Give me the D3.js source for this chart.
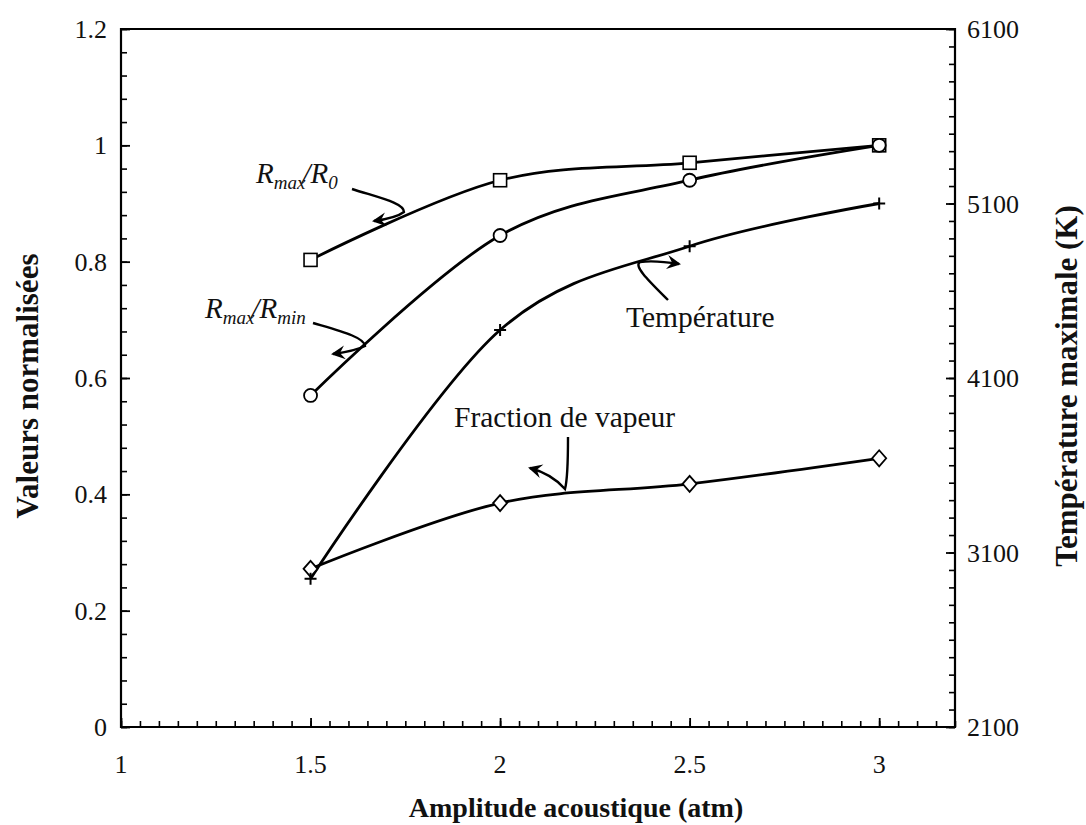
<!DOCTYPE html>
<html>
<head>
<meta charset="utf-8">
<script src="https://cdn.jsdelivr.net/npm/d3@7"></script>
<style>
  html, body { margin: 0; padding: 0; background: #fff; }
  svg { display: block; }
  text { font-family: "Palatino Linotype", "Book Antiqua", Palatino, "Liberation Serif", serif; fill: #111; }
</style>
</head>
<body>
<svg id="chart" width="1086" height="825"></svg>
<script>
// Acoustic amplitude (atm)
const amplitude = [1.5, 2, 2.5, 3];
// Normalised values (left axis)
const rmaxR0 = [0.803, 0.940, 0.970, 1.0];
const rmaxRmin = [0.570, 0.845, 0.940, 1.0];
const vaporFraction = [0.272, 0.385, 0.418, 0.462];
// Maximum temperature in K (right axis)
const temperature = [2950, 4375, 4855, 5100];

const xTicks = [1, 1.5, 2, 2.5, 3];
const yTicks = [0, 0.2, 0.4, 0.6, 0.8, 1, 1.2];
const yRightTicks = [2100, 3100, 4100, 5100, 6100];

const svg = d3.select("#chart");
const frame = { left: 121, right: 955, top: 29, bottom: 727 };

const x = d3.scaleLinear().domain([1, 3.2]).range([frame.left, frame.right]);
const y = d3.scaleLinear().domain([0, 1.2]).range([frame.bottom, frame.top]);
const yR = d3.scaleLinear().domain([2100, 6100]).range([frame.bottom, frame.top]);

const tickFont = 26;

// Axes: minor ticks inside the frame, major ticks longer
function tickRow(axisGen, scale, vals, size, width, transform) {
  svg.append("g").attr("transform", transform)
    .call(axisGen(scale).tickValues(vals).tickSize(size).tickFormat(""))
    .call(g => g.select(".domain").remove())
    .call(g => g.selectAll("line").attr("stroke", "#000").attr("stroke-width", width));
}
const steps = (lo, hi, step) => d3.range(lo, hi + step / 2, step).map(v => +v.toFixed(4));
tickRow(d3.axisTop, x, steps(1, 3.2, 0.05), 6, 1.6, `translate(0,${frame.bottom})`);
tickRow(d3.axisRight, y, steps(0, 1.2, 0.04), 6, 1.6, `translate(${frame.left},0)`);
tickRow(d3.axisLeft, yR, steps(2100, 6100, 100), 6, 1.6, `translate(${frame.right},0)`);
tickRow(d3.axisTop, x, xTicks, 9, 1.8, `translate(0,${frame.bottom})`);
tickRow(d3.axisRight, y, yTicks, 9, 1.8, `translate(${frame.left},0)`);
tickRow(d3.axisLeft, yR, yRightTicks, 9, 1.8, `translate(${frame.right},0)`);

// frame
svg.append("path")
  .attr("d", `M${frame.left},${frame.top}H${frame.right}V${frame.bottom}H${frame.left}Z`)
  .attr("fill", "none").attr("stroke", "#000").attr("stroke-width", 2.2);

// tick labels
svg.append("g").selectAll("text").data(xTicks).join("text")
  .attr("x", d => x(d)).attr("y", frame.bottom + 46)
  .attr("text-anchor", "middle").attr("font-size", tickFont)
  .text(d => d);
svg.append("g").selectAll("text").data(yTicks).join("text")
  .attr("x", frame.left - 14).attr("y", d => y(d) + 9)
  .attr("text-anchor", "end").attr("font-size", tickFont)
  .text(d => d);
svg.append("g").selectAll("text").data(yRightTicks).join("text")
  .attr("x", frame.right + 12).attr("y", d => yR(d) + 9)
  .attr("text-anchor", "start").attr("font-size", tickFont)
  .text(d => d);

// axis titles
svg.append("text")
  .attr("x", 576).attr("y", 817)
  .attr("text-anchor", "middle").attr("font-size", 28).attr("font-weight", "bold")
  .text("Amplitude acoustique (atm)");
svg.append("text")
  .attr("transform", `translate(38,386) rotate(-90)`)
  .attr("text-anchor", "middle").attr("font-size", 31).attr("font-weight", "bold")
  .text("Valeurs normalisées");
svg.append("text")
  .attr("transform", `translate(1077,386) rotate(-90)`)
  .attr("text-anchor", "middle").attr("font-size", 31).attr("font-weight", "bold")
  .text("Température maximale (K)");

// curves (smoothed)
const curve = d3.curveCardinal.tension(0);
function series(values, scale) {
  return values.map((v, i) => [x(amplitude[i]), scale(v)]);
}
const line = d3.line().curve(curve);
const plotSeries = [
  series(rmaxR0, y), series(rmaxRmin, y), series(temperature, yR), series(vaporFraction, y)
];
svg.append("g").selectAll("path").data(plotSeries).join("path")
  .attr("d", line).attr("fill", "none")
  .attr("stroke", "#000").attr("stroke-width", 2.8);

// markers
const mk = svg.append("g").attr("stroke", "#000").attr("fill", "#fff");
mk.selectAll(".sq").data(series(rmaxR0, y)).join("rect")
  .attr("x", d => d[0] - 6.5).attr("y", d => d[1] - 6.5)
  .attr("width", 13).attr("height", 13).attr("stroke-width", 1.6);
mk.selectAll(".ci").data(series(rmaxRmin, y)).join("circle")
  .attr("cx", d => d[0]).attr("cy", d => d[1]).attr("r", 6.5).attr("stroke-width", 1.8);
mk.selectAll(".di").data(series(vaporFraction, y)).join("path")
  .attr("d", d => `M${d[0]},${d[1] - 8}L${d[0] + 7},${d[1]}L${d[0]},${d[1] + 8}L${d[0] - 7},${d[1]}Z`)
  .attr("stroke-width", 1.8);
mk.selectAll(".pl").data(series(temperature, yR)).join("path")
  .attr("d", d => `M${d[0] - 6},${d[1]}H${d[0] + 6}M${d[0]},${d[1] - 6}V${d[1] + 6}`)
  .attr("stroke-width", 2).attr("fill", "none");

// arrowhead for callouts
svg.append("defs").append("marker")
  .attr("id", "head").attr("viewBox", "-14 -8 16 16")
  .attr("markerWidth", 16).attr("markerHeight", 16)
  .attr("markerUnits", "userSpaceOnUse").attr("orient", "auto")
  .append("path").attr("d", "M2,0 L-12,-7 L-7,0 L-12,7 Z").attr("fill", "#000");

// callouts
const callouts = [
  "M352,189 C380,198 404,203 404,212 Q 396,218 374,221",
  "M313,323 C340,331 364,337 365,346 Q 355,351 333,354",
  "M668,300 C650,282 633,266 640,262 Q 655,260 679,264",
  "M568,437 C568,455 568,478 565,489 Q 552,474 530,468"
];
svg.append("g").selectAll("path").data(callouts).join("path")
  .attr("d", d => d).attr("fill", "none").attr("stroke", "#000")
  .attr("stroke-width", 2.4).attr("marker-end", "url(#head)");

// series labels
function ratioLabel(xp, yp, sub1, sub2) {
  const t = svg.append("text").attr("x", xp).attr("y", yp)
    .attr("font-size", 29).attr("font-style", "italic");
  t.append("tspan").text("R");
  t.append("tspan").attr("font-size", 19).attr("dy", 6).text(sub1);
  t.append("tspan").attr("dy", -6).attr("dx", -3).text("/R");
  t.append("tspan").attr("font-size", 19).attr("dy", 6).text(sub2);
}
ratioLabel(256, 183, "max", "0");
ratioLabel(205, 318, "max", "min");
svg.append("text").attr("x", 626).attr("y", 327).attr("font-size", 29.5).text("Température");
svg.append("text").attr("x", 454).attr("y", 427).attr("font-size", 29.5).text("Fraction de vapeur");
</script>
</body>
</html>
